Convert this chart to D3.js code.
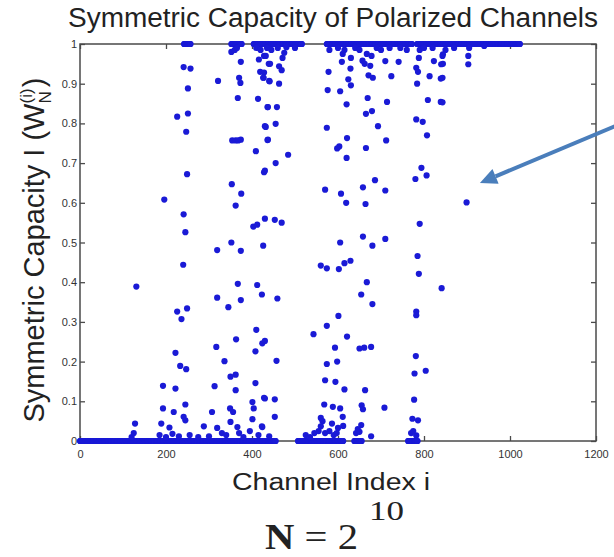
<!DOCTYPE html>
<html><head><meta charset="utf-8">
<script src="https://cdn.jsdelivr.net/npm/d3@7"></script>
<style>body{margin:0;background:#fff}svg{display:block}</style>
</head><body>
<svg id="c" width="614" height="557"></svg>
<script>
// ---- data ----
const xTicks = [0, 200, 400, 600, 800, 1000, 1200];
const xTickLabels = ["0", "200", "400", "600", "800", "1000", "1200"];
const yTicks = [0, 0.1, 0.2, 0.3, 0.4, 0.5, 0.6, 0.7, 0.8, 0.9, 1];
const yTickLabels = ["0", "0.1", "0.2", "0.3", "0.4", "0.5", "0.6", "0.7", "0.8", "0.9", "1"];

// channel index runs whose capacity sits at ~0 and at ~1
const zeroRuns = [[0, 455], [507, 612], [638, 655], [763, 785]];
const oneRuns = [[242, 257], [352, 376], [404, 516], [574, 772], [784, 1023]];

// channels with visible intermediate capacity [index, capacity]
const midPoints = [
  [241,0.942],[257,0.938],[251,0.888],[226,0.817],[251,0.825],[247,0.779],[249,0.672],[321,0.907],
  [352,0.98],[370,0.915],[373,0.902],[374,0.955],[367,0.864],[354,0.757],[362,0.757],[368,0.757],
  [374,0.759],[409,0.73],[414,0.862],[416,0.961],[419,0.93],[427,0.915],[428,0.97],[437,0.841],
  [430,0.793],[437,0.759],[430,0.681],[439,0.95],[441,0.906],
  [432,0.97],[442,0.95],[428,0.928],[463,0.944],[469,0.934],[426,0.915],[440,0.907],[463,0.9],
  [436,0.841],[458,0.841],[432,0.791],[455,0.799],[436,0.758],[484,0.721],[455,0.70],[475,0.978],
  [471,0.965],[578,0.93],[576,0.884],[574,0.789],[605,0.881],[609,0.955],[629,0.938],[624,0.911],
  [630,0.896],[620,0.848],[621,0.763],[603,0.742],[598,0.737],[620,0.713],[611,0.975],[630,0.965],
  [657,0.958],[671,0.921],[681,0.915],[669,0.864],[679,0.831],[665,0.824],[693,0.793],[665,0.738],
  [662,0.95],[675,0.945],[667,0.975],[678,0.97],[710,0.957],[714,0.854],[712,0.757],[724,0.919],
  [741,0.955],[782,0.94],[786,0.93],[784,0.9],[788,0.965],[813,0.919],[809,0.859],[807,0.77],
  [782,0.81],[797,0.804],[794,0.688],[823,0.957],[840,0.949],[839,0.913],[839,0.854],[843,0.97],
  [844,0.974],[844,0.95],[843,0.915],[843,0.853],[903,0.97],[903,0.949],
  [899,0.601],[841,0.385],
  [196,0.608],[241,0.571],[245,0.526],[240,0.444],[131,0.389],[226,0.326],[249,0.334],[353,0.647],
  [375,0.623],[362,0.593],[428,0.677],[430,0.56],[403,0.54],[412,0.545],[352,0.5],[426,0.492],
  [319,0.481],[374,0.479],[367,0.396],[412,0.393],[423,0.369],[319,0.361],[374,0.355],[345,0.337],
  [570,0.633],[607,0.623],[619,0.6],[658,0.639],[686,0.657],[710,0.631],[664,0.597],[780,0.66],
  [806,0.669],[453,0.557],[469,0.55],[790,0.547],[605,0.5],[658,0.515],[680,0.492],[710,0.509],
  [785,0.466],[560,0.442],[574,0.435],[602,0.433],[615,0.448],[629,0.454],[788,0.421],[459,0.359],
  [667,0.4],[654,0.369],[680,0.345],[782,0.326],
  [236,0.307],[222,0.222],[233,0.189],[247,0.181],[193,0.139],[222,0.132],[245,0.092],[193,0.082],
  [218,0.073],[241,0.061],[245,0.052],[189,0.044],[208,0.034],[128,0.044],[317,0.237],[336,0.201],
  [313,0.138],[307,0.073],[363,0.256],[350,0.162],[362,0.167],[362,0.128],[349,0.082],[356,0.073],
  [288,0.037],[319,0.033],[350,0.048],[366,0.035],[410,0.28],[424,0.246],[430,0.252],[408,0.226],
  [408,0.146],[428,0.109],[401,0.098],[404,0.082],[401,0.055],[423,0.037],
  [457,0.202],[430,0.107],[453,0.105],[453,0.061],[424,0.035],[782,0.317],[601,0.315],[574,0.29],
  [543,0.269],[621,0.263],[593,0.235],[650,0.233],[661,0.235],[677,0.237],[574,0.194],[598,0.2],
  [781,0.214],[778,0.17],[804,0.177],[570,0.153],[594,0.149],[615,0.13],[663,0.128],[568,0.092],
  [588,0.086],[605,0.082],[655,0.09],[658,0.08],[708,0.084],[777,0.104],[560,0.058],[564,0.05],
  [611,0.061],[586,0.044],[773,0.056],[786,0.052],[560,0.037],[612,0.038],[600,0.033],[654,0.04],
  [650,0.023],[677,0.012],[782,0.014],
  [120,0.01],[125,0.02],[185,0.015],[200,0.01],[215,0.018],[230,0.012],[255,0.015],[275,0.01],
  [300,0.012],[330,0.02],[340,0.015],[370,0.02],[380,0.01],[395,0.025],[415,0.015],[440,0.012],
  [525,0.015],[535,0.01],[545,0.02],[555,0.025],[570,0.02],[580,0.025],[590,0.015],[597,0.02],
  [642,0.02],[646,0.03],[770,0.02],[775,0.025],
  [360,0.985],[365,0.99],[410,0.99],[420,0.985],[435,0.99],[445,0.985],[460,0.99],[480,0.992],
  [500,0.99],[580,0.985],[600,0.99],[615,0.985],[640,0.99],[650,0.985],[690,0.99],[700,0.985],
  [720,0.99],[745,0.99],[760,0.985],[790,0.985],[800,0.99],[820,0.99],[850,0.985],[870,0.99],
  [905,0.99],[940,0.995]
];

// ---- build point table ----
const points = [];
zeroRuns.forEach(([a, b]) => { for (let i = a; i <= b; i++) points.push([i, 0]); });
oneRuns.forEach(([a, b]) => { for (let i = a; i <= b; i++) points.push([i, 1]); });
midPoints.forEach(p => points.push(p));

const svg = d3.select("#c");
const L = 80, R = 596, T = 44, B = 441;
const x = d3.scaleLinear().domain([0, 1200]).range([L, R]);
const y = d3.scaleLinear().domain([0, 1]).range([B, T]);

const axisColor = "#4a4a4a";
const tickFont = "Liberation Sans, Arial, sans-serif";

function styleAxis(g, showLabels) {
  g.select(".domain").remove();
  g.selectAll(".tick line").attr("stroke", axisColor).attr("stroke-width", 1.3);
  g.selectAll(".tick text").attr("fill", "#333").attr("font-size", 11)
    .attr("font-family", tickFont);
  if (!showLabels) g.selectAll(".tick text").remove();
}

svg.append("g").attr("transform", `translate(0,${B})`)
  .call(d3.axisBottom(x).tickValues(xTicks).tickFormat((d, i) => xTickLabels[i]).tickSize(-5).tickPadding(9))
  .call(g => styleAxis(g, true));
svg.append("g").attr("transform", `translate(0,${T})`)
  .call(d3.axisTop(x).tickValues(xTicks).tickSize(-5))
  .call(g => styleAxis(g, false));
svg.append("g").attr("transform", `translate(${L},0)`)
  .call(d3.axisLeft(y).tickValues(yTicks).tickFormat((d, i) => yTickLabels[i]).tickSize(-5).tickPadding(3))
  .call(g => styleAxis(g, true));
svg.append("g").attr("transform", `translate(${R},0)`)
  .call(d3.axisRight(y).tickValues(yTicks).tickSize(-5))
  .call(g => styleAxis(g, false));

svg.append("rect").attr("x", L).attr("y", T).attr("width", R - L).attr("height", B - T)
  .attr("fill", "none").attr("stroke", axisColor).attr("stroke-width", 1.5);

// points
svg.append("g").selectAll("circle").data(points).join("circle")
  .attr("cx", d => x(d[0])).attr("cy", d => y(d[1])).attr("r", 3.1)
  .attr("fill", "#1a1ad6");

// title
svg.append("text").attr("x", 333).attr("y", 27).attr("text-anchor", "middle")
  .attr("font-family", tickFont).attr("font-size", 27).attr("fill", "#222")
  .attr("textLength", 530).attr("lengthAdjust", "spacingAndGlyphs")
  .text("Symmetric Capacity of Polarized Channels");

// x label
svg.append("text").attr("x", 331).attr("y", 490).attr("text-anchor", "middle")
  .attr("font-family", tickFont).attr("font-size", 23).attr("fill", "#222")
  .attr("textLength", 198).attr("lengthAdjust", "spacingAndGlyphs")
  .text("Channel Index i");

// y label
const yl = svg.append("text").attr("transform", "translate(44,250) rotate(-90)")
  .attr("text-anchor", "middle").attr("font-family", tickFont).attr("font-size", 29).attr("fill", "#222");
yl.append("tspan").text("Symmetric Capacity I (W");
yl.append("tspan").attr("font-size", 17).attr("dy", -12).text("(i)");
yl.append("tspan").attr("font-size", 17).attr("dx", -15).attr("dy", 19).text("N");
yl.append("tspan").attr("dy", -7).attr("dx", 4).text(")");

// N = 2^10
const nt = svg.append("text").attr("x", 265).attr("y", 549)
  .attr("font-family", "Liberation Serif, Times New Roman, serif").attr("font-size", 36).attr("fill", "#222")
  .attr("textLength", 93).attr("lengthAdjust", "spacingAndGlyphs");
nt.append("tspan").attr("font-weight", "bold").text("N");
nt.append("tspan").text(" = 2");
svg.append("text").attr("x", 369).attr("y", 520)
  .attr("font-family", "Liberation Serif, Times New Roman, serif").attr("font-size", 27).attr("fill", "#222")
  .attr("textLength", 35).attr("lengthAdjust", "spacingAndGlyphs").text("10");

// annotation arrow pointing at the isolated channel
const tip = [x(930), y(0.65)];
const start = [632, 119];
const dx = tip[0] - start[0], dy = tip[1] - start[1];
const len = Math.hypot(dx, dy), ux = dx / len, uy = dy / len;
const headL = 17, headW = 8;
const base = [tip[0] - headL * ux, tip[1] - headL * uy];
const arrowColor = "#4a7ebb";
svg.append("line").attr("x1", start[0]).attr("y1", start[1]).attr("x2", base[0]).attr("y2", base[1])
  .attr("stroke", arrowColor).attr("stroke-width", 4);
svg.append("polygon").attr("points", [
  tip, [base[0] - headW * uy, base[1] + headW * ux], [base[0] + headW * uy, base[1] - headW * ux]
].map(p => p.join(",")).join(" ")).attr("fill", arrowColor);
</script>
</body></html>
